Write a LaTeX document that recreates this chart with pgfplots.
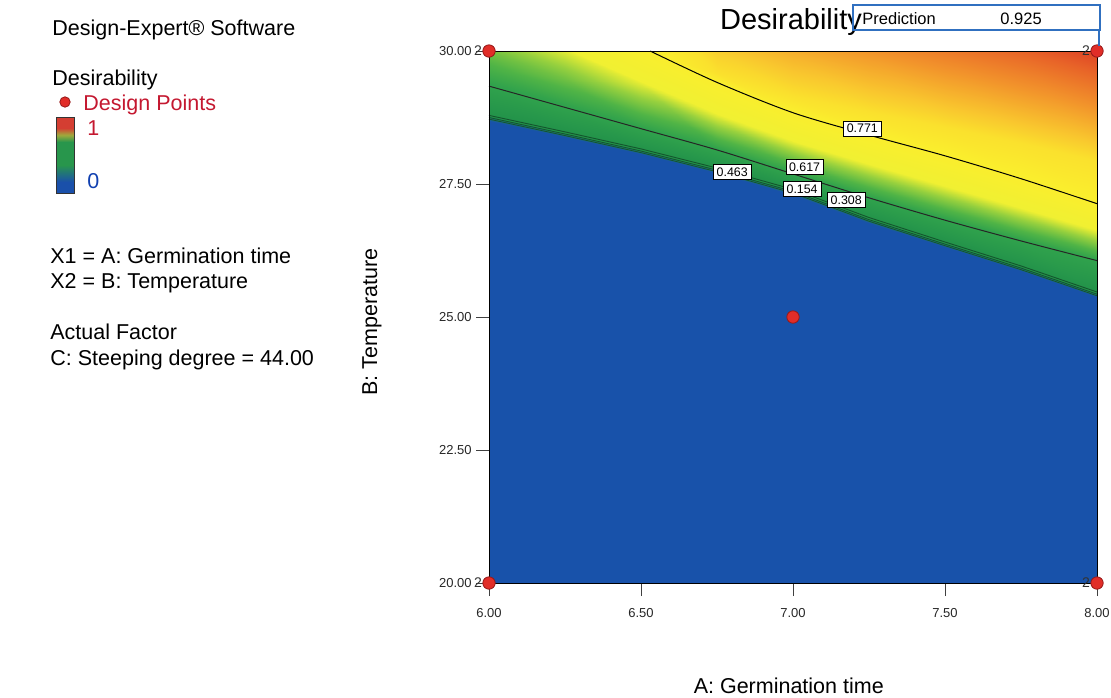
\documentclass[border=0pt]{standalone}
\usepackage{pgfplots}
\usepackage{pgfplotstable}
\pgfplotsset{compat=1.18}
\usepackage{fontspec}
\setmainfont{Liberation Sans}

\definecolor{dpred}{RGB}{225,45,40}
\definecolor{dpredge}{RGB}{150,25,25}
\definecolor{crimson}{RGB}{196,24,48}
\definecolor{zeroblue}{RGB}{16,64,176}
\definecolor{predblue}{RGB}{48,112,192}
\definecolor{barred}{RGB}{212,62,50}
\definecolor{barolive}{RGB}{160,170,60}
\definecolor{bargreen}{RGB}{40,150,76}
\definecolor{barblue}{RGB}{26,80,170}
\definecolor{lowline}{RGB}{20,85,45}

% Desirability on a contour-aligned lattice. Rows, bottom to top:
% y=20, edge of the zero region, just above it, 0.617 level,
% onset of yellow (0.70), 0.771 level, end of yellow (0.80), top edge.
\pgfplotstableread{
x y D
6.00 20 0
6.25 20 0
6.50 20 0
6.75 20 0
7.00 20 0
7.25 20 0
7.50 20 0
7.75 20 0
8.00 20 0
6.00 28.69 0
6.25 28.38 0
6.50 28.06 0
6.75 27.70 0
7.00 27.30 0
7.25 26.77 0
7.50 26.31 0
7.75 25.86 0
8.00 25.37 0
6.00 28.77 0.47
6.25 28.46 0.47
6.50 28.14 0.47
6.75 27.78 0.47
7.00 27.38 0.47
7.25 26.85 0.47
7.50 26.39 0.47
7.75 25.94 0.47
8.00 25.45 0.47
6.00 29.34 0.617
6.25 28.94 0.617
6.50 28.54 0.617
6.75 28.14 0.617
7.00 27.69 0.617
7.25 27.24 0.617
7.50 26.82 0.617
7.75 26.43 0.617
8.00 26.06 0.617
6.00 29.67 0.6385
6.25 29.47 0.6585
6.50 29.38 0.70
6.75 28.78 0.70
7.00 28.27 0.70
7.25 27.83 0.70
7.50 27.43 0.70
7.75 27.02 0.70
8.00 26.60 0.70
6.00 30 0.66
6.25 30 0.70
6.50 30 0.762
6.75 29.41 0.771
7.00 28.84 0.771
7.25 28.42 0.771
7.50 28.03 0.771
7.75 27.60 0.771
8.00 27.13 0.771
6.00 30 0.66
6.25 30 0.70
6.50 30 0.762
6.75 29.58 0.80
7.00 29.16 0.80
7.25 28.86 0.80
7.50 28.58 0.80
7.75 28.27 0.80
8.00 27.93 0.80
6.00 30 0.66
6.25 30 0.70
6.50 30 0.762
6.75 30 0.815
7.00 30 0.84
7.25 30 0.86
7.50 30 0.88
7.75 30 0.90
8.00 30 0.925
}\desirgrid

\begin{document}
\begin{tikzpicture}[every node/.style={inner sep=0pt}]
\path[use as bounding box] (0,0) rectangle (555.5pt,-348.5pt);

% ---- side panel ----
\begin{scope}[font=\fontsize{10.75}{13}\selectfont]
\node[anchor=base west] at (26pt,-17.5pt) {Design-Expert® Software};
\node[anchor=base west] at (26pt,-42.5pt) {Desirability};
\fill[dpred, draw=dpredge, line width=0.4pt] (32.5pt,-51pt) circle (2.6pt);
\node[anchor=base west, text=crimson] at (41.5pt,-55pt) {Design Points};
\fill[barred] (28pt,-58.5pt) rectangle (37pt,-64pt);
\shade[top color=barred, bottom color=bargreen, middle color=barolive] (28pt,-64pt) rectangle (37pt,-71pt);
\fill[bargreen] (28pt,-71pt) rectangle (37pt,-82.5pt);
\shade[top color=bargreen, bottom color=barblue] (28pt,-82.5pt) rectangle (37pt,-91pt);
\fill[barblue] (28pt,-91pt) rectangle (37pt,-96.5pt);
\draw[black!80, line width=0.5pt] (28pt,-58.5pt) rectangle (37pt,-96.5pt);
\node[anchor=base west, text=crimson] at (43.5pt,-67.5pt) {1};
\node[anchor=base west, text=zeroblue] at (43.5pt,-94pt) {0};
\node[anchor=base west] at (25pt,-131.5pt) {X1 = A: Germination time};
\node[anchor=base west] at (25pt,-144pt) {X2 = B: Temperature};
\node[anchor=base west] at (25pt,-169.5pt) {Actual Factor};
\node[anchor=base west] at (25pt,-182.5pt) {C: Steeping degree = 44.00};
\end{scope}

\begin{axis}[
  at={(244.5pt,-291.5pt)}, anchor=south west,
  scale only axis, width=304pt, height=266pt,
  xmin=6, xmax=8, ymin=20, ymax=30,
  xtick={6,6.5,7,7.5,8}, ytick={20,22.5,25,27.5,30},
  tick pos=left, tick align=outside, major tick length=6.5pt,
  tick style={black!75, line width=0.4pt},
  axis line style={black, line width=0.5pt},
  axis on top, clip=false,
  /pgf/number format/fixed, /pgf/number format/fixed zerofill,
  /pgf/number format/precision=2, /pgf/number format/assume math mode=true,
  ticklabel style={font=\fontsize{6.5}{7}\selectfont, text=black!85, inner sep=2pt},
  xticklabel style={yshift=-4pt},
  colormap={desir}{
    rgb255(0pt)=(24,82,170); rgb255(400pt)=(30,132,82); rgb255(470pt)=(34,146,74);
    rgb255(620pt)=(48,162,76); rgb255(645pt)=(80,180,70); rgb255(675pt)=(150,208,62);
    rgb255(705pt)=(240,240,50); rgb255(775pt)=(250,238,45); rgb255(800pt)=(250,225,45);
    rgb255(820pt)=(249,200,46); rgb255(860pt)=(242,148,43); rgb255(900pt)=(232,100,40);
    rgb255(925pt)=(222,66,38); rgb255(1000pt)=(205,35,30)},
  point meta min=0, point meta max=1,
  title={Desirability},
  title style={at={(axis description cs:0.4967,1.0188)}, anchor=base,
    font=\fontsize{14.5}{16}\selectfont},
  xlabel={A: Germination time},
  xlabel style={at={(axis description cs:0.493,-0.2068)}, anchor=base,
    font=\fontsize{10.75}{13}\selectfont},
  ylabel={B: Temperature},
  ylabel style={at={(axis description cs:-0.184,0.4906)}, anchor=base,
    font=\fontsize{10.75}{13}\selectfont},
]
\addplot[surf, shader=interp, mesh/cols=9, point meta=explicit]
  table[x=x, y=y, meta=D] {\desirgrid};

% contour lines
\addplot[black, line width=0.5pt, smooth] coordinates
  {(6.53,30) (6.75,29.41) (7.0,28.84) (7.25,28.42) (7.5,28.03) (7.75,27.60) (8.0,27.13)};
\addplot[black!85, line width=0.5pt, smooth] coordinates
  {(6.0,29.34) (6.25,28.94) (6.5,28.54) (6.75,28.14) (7.0,27.69) (7.25,27.24) (7.5,26.82) (7.75,26.43) (8.0,26.06)};
\addplot[lowline, line width=0.45pt] coordinates
  {(6.0,28.79) (6.25,28.48) (6.5,28.16) (6.75,27.80) (7.0,27.40) (7.25,26.87) (7.5,26.41) (7.75,25.96) (8.0,25.47)};
\addplot[lowline, line width=0.4pt] coordinates
  {(6.0,28.75) (6.25,28.44) (6.5,28.12) (6.75,27.76) (7.0,27.36) (7.25,26.83) (7.5,26.37) (7.75,25.92) (8.0,25.43)};
\addplot[lowline, line width=0.4pt] coordinates
  {(6.0,28.72) (6.25,28.41) (6.5,28.09) (6.75,27.73) (7.0,27.33) (7.25,26.80) (7.5,26.34) (7.75,25.89) (8.0,25.40)};

\begin{scope}[every node/.style={fill=white, draw=black, line width=0.3pt,
    inner xsep=1.6pt, inner ysep=1.5pt, font=\fontsize{6.2}{6.2}\selectfont}]
\node at (axis cs:7.228,28.54) {0.771};
\node at (axis cs:7.038,27.82) {0.617};
\node at (axis cs:6.800,27.73) {0.463};
\node at (axis cs:7.030,27.41) {0.154};
\node at (axis cs:7.175,27.20) {0.308};
\end{scope}

% design points
\addplot[only marks, mark=*, mark size=3.1pt,
  mark options={fill=dpred, draw=dpredge, line width=0.4pt}]
  coordinates {(7,25)};
\addplot[only marks, mark=*, mark size=3.1pt,
  mark options={fill=dpred, draw=dpredge, line width=0.4pt},
  nodes near coords={2},
  every node near coord/.append style={anchor=east, xshift=-3.3pt,
    inner sep=0pt, font=\fontsize{7}{7}\selectfont, text=black!80}]
  coordinates {(6,20) (6,30) (8,20) (8,30)};
\end{axis}

% prediction flag
\draw[predblue, line width=0.6pt] (426.5pt,-2.5pt) rectangle (550pt,-15pt);
\draw[predblue, line width=0.6pt] (549.5pt,-15pt) -- (549.5pt,-23pt);
\node[anchor=base west, font=\fontsize{8.25}{9}\selectfont] at (431pt,-12pt) {Prediction};
\node[anchor=base west, font=\fontsize{8.25}{9}\selectfont] at (500pt,-12pt) {0.925};
\end{tikzpicture}
\end{document}
